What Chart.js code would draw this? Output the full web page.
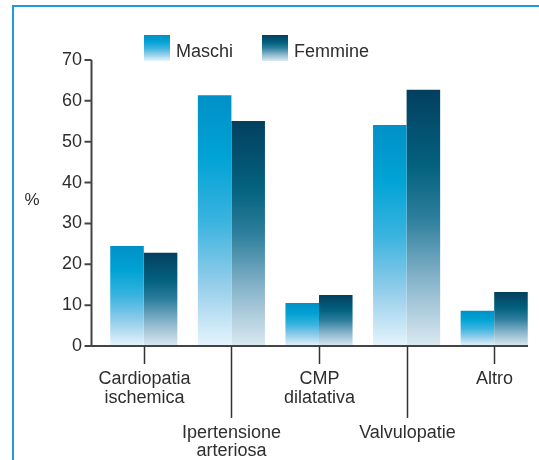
<!DOCTYPE html>
<html>
<head>
<meta charset="utf-8">
<script src="https://cdn.jsdelivr.net/npm/chart.js@4"></script>
<style>
  html, body { margin: 0; padding: 0; background: #fff; }
  #wrap { width: 539px; height: 460px; position: relative; }
</style>
</head>
<body>
<div id="wrap"><canvas id="chart"></canvas></div>
<script>
// Cause di scompenso per sesso (%)
const categories = [
  ['Cardiopatia', 'ischemica'],
  ['Ipertensione', 'arteriosa'],
  ['CMP', 'dilatativa'],
  ['Valvulopatie'],
  ['Altro']
];
const maschi = [24.5, 61.4, 10.5, 54.1, 8.6];
const femmine = [22.8, 55.1, 12.5, 62.7, 13.2];
const yTicks = [0, 10, 20, 30, 40, 50, 60, 70];

const FONT = "'Liberation Sans', Arial, Helvetica, sans-serif";
const TEXT = '#2e2e2e';
const AXIS = '#444444';

const maschiStops = [[0, '#0090c8'], [0.25, '#00a3d5'], [0.5, '#3ab3df'], [0.75, '#93cdea'], [1, '#e6f4fc']];
const femmineStops = [[0, '#033f5f'], [0.3, '#03627f'], [0.5, '#2d7e9c'], [0.75, '#8ab6cc'], [1, '#dbe9f1']];

function makeGradient(c, stops, top, bottom) {
  const g = c.createLinearGradient(0, top, 0, bottom);
  stops.forEach(([o, col]) => g.addColorStop(o, col));
  return g;
}

// gradient from top of each bar to the baseline
function barFill(stops) {
  return (ctx) => {
    const chart = ctx.chart;
    if (!chart.chartArea || ctx.type !== 'data') return stops[1][1];
    const y = chart.scales.y;
    return makeGradient(chart.ctx, stops, y.getPixelForValue(ctx.raw), y.getPixelForValue(0));
  };
}

const decor = {
  id: 'decor',
  afterDraw(chart) {
    const c = chart.ctx;
    const area = chart.chartArea;
    const y = chart.scales.y;
    const x = chart.scales.x;
    const base = y.getPixelForValue(0);
    const axisX = area.left - 8.5;

    c.save();
    // blue frame (left + top)
    c.strokeStyle = '#1f9bd5';
    c.lineWidth = 2;
    c.beginPath();
    c.moveTo(13, 460);
    c.lineTo(13, 6);
    c.lineTo(539, 6);
    c.stroke();

    // y axis + ticks
    c.strokeStyle = AXIS;
    c.lineWidth = 2;
    c.beginPath();
    c.moveTo(axisX, y.getPixelForValue(yTicks[yTicks.length - 1]));
    c.lineTo(axisX, base + 1);
    yTicks.forEach(v => {
      const py = y.getPixelForValue(v);
      c.moveTo(axisX - 7, py);
      c.lineTo(axisX, py);
    });
    c.stroke();

    // x axis
    c.beginPath();
    c.moveTo(axisX - 1, base);
    c.lineTo(area.right - 10, base);
    c.stroke();

    // category ticks, alternating length, and labels
    c.font = '18px ' + FONT;
    c.fillStyle = TEXT;
    c.textAlign = 'center';
    c.textBaseline = 'alphabetic';
    categories.forEach((lines, i) => {
      const px = Math.round(x.getPixelForValue(i)) + 0.5;
      const long = i % 2 === 1;
      c.strokeStyle = '#333';
      c.lineWidth = 1.5;
      c.beginPath();
      c.moveTo(px, base);
      c.lineTo(px, base + (long ? 72 : 18));
      c.stroke();
      const first = base + (long ? 91.5 : 38);
      lines.forEach((t, k) => c.fillText(t, px, first + k * 18.7));
    });

    // "%" axis title
    c.font = '17px ' + FONT;
    c.textAlign = 'center';
    c.fillText('%', 32, 205);

    // legend
    const legend = [['Maschi', maschiStops, 144], ['Femmine', femmineStops, 262]];
    c.font = '18px ' + FONT;
    c.textAlign = 'left';
    legend.forEach(([label, stops, lx]) => {
      c.fillStyle = makeGradient(c, stops, 35, 61);
      c.fillRect(lx, 35, 26, 26);
      c.fillStyle = TEXT;
      c.fillText(label, lx + 32, 56.5);
    });
    c.restore();
  }
};

new Chart(document.getElementById('chart'), {
  type: 'bar',
  data: {
    labels: categories,
    datasets: [
      { label: 'Maschi', data: maschi, backgroundColor: barFill(maschiStops), borderWidth: 0 },
      { label: 'Femmine', data: femmine, backgroundColor: barFill(femmineStops), borderWidth: 0 }
    ]
  },
  options: {
    responsive: true,
    maintainAspectRatio: false,
    animation: false,
    categoryPercentage: 0.766,
    barPercentage: 1,
    layout: { padding: { top: 60, bottom: 114, left: 0, right: 1 } },
    scales: {
      x: { display: false },
      y: {
        min: 0,
        max: 70,
        afterFit: (s) => { s.width = 100; },
        afterBuildTicks: (s) => { s.ticks = yTicks.map(v => ({ value: v })); },
        grid: { display: false, drawTicks: false },
        border: { display: false },
        ticks: { padding: 18, color: TEXT, font: { family: FONT, size: 18 } }
      }
    },
    plugins: { legend: { display: false }, tooltip: { enabled: false } }
  },
  plugins: [decor]
});
</script>
</body>
</html>
